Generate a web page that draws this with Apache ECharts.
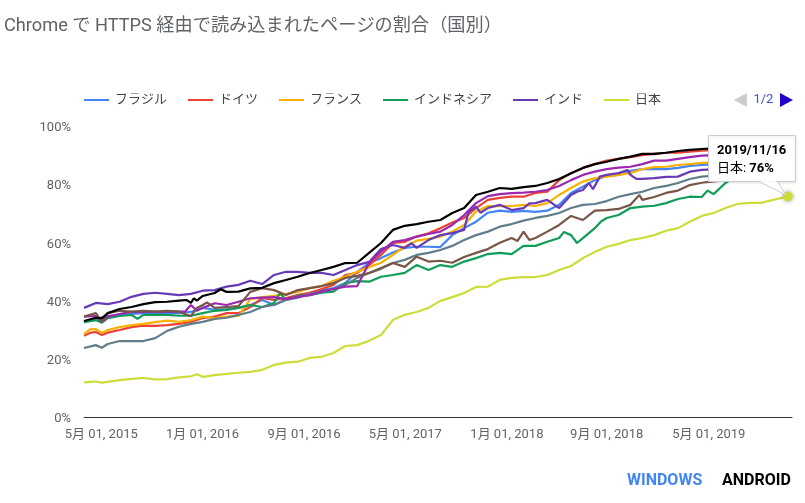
<!DOCTYPE html>
<html>
<head>
<meta charset="utf-8">
<style>
html, body { margin: 0; padding: 0; background: #fff; }
#chart { width: 805px; height: 503px; }
</style>
<script src="https://cdn.jsdelivr.net/npm/echarts@6/dist/echarts.min.js"></script>
</head>
<body>
<div id="chart"></div>
<script>
// weeks since the first sample, 2015/03/21
const weeks = [0,4,8,12,16,20,24,28,32,36,40,44,48,52,56,60,64,68,72,76,80,84,88,92,96,100,104,108,112,116,120,124,128,132,136,140,144,148,152,156,160,164,168,172,176,180,184,188,192,196,200,204,208,212,216,220,224,228,232,236,237]
const tickWeeks = [5.8,39.9,74.1,108.2,142.4,176,210.4]
const tickLabels = ['5月 01, 2015','1月 01, 2016','9月 01, 2016','5月 01, 2017','1月 01, 2018','9月 01, 2018','5月 01, 2019']
const yTicks = [0,20,40,60,80,100]

const brazil = [32.6,33.7,34.7,35.1,35.4,35.7,35.7,35.7,35.7,36.1,37.5,36.8,37.1,37.5,38.5,40.2,38.5,40.5,41.9,42.6,43.6,44.3,46.0,49.9,52.9,54.6,56.5,58.1,58.5,58.5,58.4,62.5,64.9,67.1,70.2,70.9,70.5,70.8,70.5,70.9,72.9,77.0,79.1,81.4,82.8,83.2,84.6,85.2,85.2,85.2,85.6,86.3,86.6,86.9,87.1,87.3,87.4,87.5,87.6,87.7,87.8]
const germany = [27.9,29.2,29.0,29.9,30.9,31.4,31.3,31.6,32.0,32.7,34.0,34.5,35.7,35.7,37.8,40.9,40.2,40.9,41.9,42.7,44.0,45.4,48.8,49.5,52.2,55.7,59.8,60.2,62.0,63.1,64.9,66.8,68.4,71.8,74.6,75.3,75.7,75.7,77.0,77.4,81.4,83.8,85.6,86.9,88.1,88.7,89.3,90.0,90.4,90.8,90.8,91.2,91.5,91.7,91.9,92.0,92.1,92.2,92.3,92.3,92.4]
const france = [28.5,30.2,29.9,30.9,31.6,32.0,32.6,33.1,32.7,33.3,34.5,34.0,34.5,34.7,40.5,41.2,41.6,42.3,43.0,44.3,45.0,46.8,48.2,49.9,51.5,53.0,55.7,58.5,60.6,61.2,62.0,63.7,66.0,70.5,72.5,72.5,72.5,72.9,72.5,73.5,76.3,78.7,80.9,82.1,82.6,83.2,83.8,85.2,85.9,86.0,86.6,86.9,87.3,87.5,87.7,87.9,88.0,88.1,88.2,88.3,88.4]
const indonesia = [32.6,33.3,34.0,34.7,35.1,35.1,35.1,35.1,34.8,34.8,35.7,36.5,36.8,37.5,38.5,37.8,39.2,40.2,41.6,41.9,42.7,43.1,46.0,46.7,46.5,48.2,48.8,49.5,52.2,50.5,52.2,51.6,53.4,54.6,56.0,56.4,56.0,58.8,58.8,60.2,61.5,62.5,61.5,64.9,68.4,69.4,71.8,72.3,72.6,73.5,74.9,75.7,75.6,76.6,80.4,82.8,84.2,84.9,85.2,85.6,85.7]
const india = [37.5,39.2,38.8,39.6,41.3,42.3,42.7,42.3,41.9,42.3,43.4,43.6,44.8,45.4,46.8,45.7,48.8,49.9,49.9,49.5,49.5,48.8,50.5,52.2,53.3,57.7,59.1,58.1,58.1,60.8,62.5,63.2,64.3,72.3,71.8,72.9,71.1,71.8,73.5,74.6,71.8,76.3,78.0,78.7,83.2,83.8,83.2,81.8,82.1,82.5,82.6,84.3,84.9,85.1,85.3,85.4,85.6,85.7,85.8,85.9,86.0]
const japan = [11.9,12.2,12.1,12.7,13.1,13.4,12.9,13.0,13.6,14.0,13.8,14.4,14.8,15.2,15.5,16.2,17.9,18.7,19.0,20.3,20.7,22.0,24.4,24.7,26.2,28.2,33.3,35.1,36.1,37.5,39.9,41.2,42.6,44.7,44.8,47.1,47.8,48.1,48.1,48.8,50.5,51.9,54.6,56.7,58.5,59.5,60.8,61.5,62.5,64.0,64.9,67.1,69.1,70.1,71.8,73.2,73.6,73.6,74.6,75.5,75.8]
const mexico = [23.7,24.7,25.1,26.1,26.1,26.1,27.1,29.6,31.0,32.0,32.7,33.7,34.1,35.1,36.1,37.8,38.5,40.2,41.0,42.3,43.1,44.0,45.4,47.8,49.5,50.9,52.9,54.0,55.7,56.4,57.4,58.8,60.8,62.5,63.7,65.4,66.3,67.5,68.4,69.1,70.1,71.8,72.9,73.2,74.2,75.7,76.6,77.4,78.7,79.4,80.4,81.8,82.6,82.9,83.3,83.6,84.0,84.3,84.6,84.9,85.0]
const uk = [34.5,34.7,34.5,35.4,36.1,36.1,36.2,36.2,36.2,38.5,37.5,39.1,38.5,39.6,40.8,41.0,41.2,40.5,41.3,41.9,43.1,44.0,44.8,45.0,52.9,56.8,60.2,60.8,62.0,62.9,63.7,66.0,69.4,73.5,75.9,76.6,76.9,77.1,77.4,78.0,79.4,81.4,83.2,84.3,85.2,85.7,86.0,86.9,88.1,88.1,88.7,89.3,89.8,90.0,90.1,90.3,90.4,90.5,90.6,90.7,90.8]
const russia = [34.5,35.7,35.7,36.5,36.2,36.5,36.2,36.5,36.2,34.7,38.5,37.5,37.8,38.1,43.0,44.3,43.6,41.9,43.6,44.3,45.0,46.0,47.8,48.5,49.5,51.2,52.9,51.6,55.1,53.4,53.7,53.0,55.0,56.4,57.7,59.9,61.5,63.7,61.5,63.7,66.0,69.1,67.7,70.9,71.1,71.5,72.9,74.6,75.6,77.0,77.8,79.7,80.5,81.0,81.4,81.7,82.0,82.3,82.5,82.7,82.8]
const usa = [33.0,34.1,35.7,37.1,37.8,38.8,39.5,39.6,40.0,39.2,41.6,42.6,43.0,43.1,44.2,44.4,46.0,47.1,48.2,49.5,50.5,51.6,52.9,53.0,56.4,59.8,64.3,65.7,66.3,67.1,67.7,70.1,71.8,76.3,77.4,78.7,78.4,79.0,79.4,80.4,81.8,83.8,85.6,86.9,87.7,88.7,89.5,90.4,90.4,90.8,91.4,91.8,92.1,92.3,92.5,92.6,92.8,92.9,93.0,93.1,93.1]

// extra [week, value] readings where a line has a spike between the 4 week samples
const germanyExtra = [[2,28.9],[6,28.2]]
const franceExtra = [[2,30.1],[6,28.9]]
const indonesiaExtra = [[6,32.4],[18,33.7],[66,42.6],[161.6,63.6],[166,59.8],[174,67.1],[210,77.8]]
const indiaExtra = [[110.3,59.7],[129.5,70.5],[133.5,70.2],[150,73.4],[166,77.4],[170,80.4],[171.4,78.3],[173.7,82.6],[183,84.9],[186,81.8]]
const japanExtra = [[6,11.8],[38,14.7]]
const mexicoExtra = [[6,23.8]]
const ukExtra = [[6,32.7],[34,36.2],[38,36.5]]
const russiaExtra = [[6,32.7],[35,35.0],[38,37.5],[41.4,39.4],[146,60.5],[150,60.8],[187,76.3]]
const usaExtra = [[6,33.9],[34.5,40.2],[37,40.8],[38,40.0],[46,43.9]]

const seriesDefs = [
    { name: 'ブラジル', color: '#4285f4', values: brazil, extra: [] },
    { name: 'ドイツ', color: '#ea4335', values: germany, extra: germanyExtra },
    { name: 'フランス', color: '#fbb004', values: france, extra: franceExtra },
    { name: 'インドネシア', color: '#0f9d58', values: indonesia, extra: indonesiaExtra },
    { name: 'インド', color: '#673ab7', values: india, extra: indiaExtra },
    { name: '日本', color: '#cddc39', values: japan, extra: japanExtra },
    { name: 'メキシコ', color: '#607d8b', values: mexico, extra: mexicoExtra },
    { name: 'イギリス', color: '#9c27b0', values: uk, extra: ukExtra },
    { name: 'ロシア', color: '#795548', values: russia, extra: russiaExtra },
    { name: 'アメリカ', color: '#000000', values: usa, extra: usaExtra }
]

const FONT = 'Roboto, "Noto Sans CJK JP", sans-serif'
const last = weeks.length - 1

const chart = echarts.init(document.getElementById('chart'), null, { renderer: 'canvas' })
chart.setOption({
    animation: false,
    textStyle: { fontFamily: FONT },
    title: [
        { text: 'Chrome で HTTPS 経由で読み込まれたページの割合（国別）', left: 4, top: 17, padding: 0, textStyle: { fontFamily: FONT, fontSize: 18.2, fontWeight: 'normal', color: '#5f6368' } },
        { text: 'WINDOWS', left: 627, top: 473, padding: 0, textStyle: { fontFamily: FONT, fontSize: 16, fontWeight: 'bold', color: '#4285f4' } },
        { text: 'ANDROID', left: 722, top: 473, padding: 0, textStyle: { fontFamily: FONT, fontSize: 16, fontWeight: 'bold', color: '#000' } }
    ],
    legend: {
        type: 'scroll',
        left: 84,
        top: 93,
        width: 709,
        icon: 'rect',
        itemWidth: 25,
        itemHeight: 2,
        itemGap: 21,
        padding: 0,
        textStyle: { fontFamily: FONT, fontSize: 13, color: '#444', padding: [0, 0, 0, 1] },
        pageIcons: { horizontal: ['path://M0,7L13,0L13,14z', 'path://M13,7L0,0L0,14z'] },
        pageIconColor: '#2200cc',
        pageIconInactiveColor: '#ccc',
        pageIconSize: 14,
        pageButtonItemGap: 1,
        pageTextStyle: { color: '#3f51d8', fontSize: 13, fontFamily: FONT },
        data: seriesDefs.map(s => s.name)
    },
    grid: { left: 84, right: 13, top: 126, bottom: 86 },
    xAxis: {
        type: 'value',
        min: 0,
        max: 238.4,
        splitLine: { show: false },
        axisTick: { show: false },
        axisLine: { show: true, lineStyle: { color: '#333', width: 1 } },
        axisLabel: {
            customValues: tickWeeks,
            formatter: v => tickLabels[tickWeeks.indexOf(v)],
            fontFamily: FONT,
            fontSize: 13,
            color: '#5f6368',
            margin: 11
        }
    },
    yAxis: {
        type: 'value',
        min: yTicks[0],
        max: yTicks[yTicks.length - 1],
        interval: 20,
        splitLine: { show: false },
        axisLine: { show: false },
        axisTick: { show: false },
        axisLabel: {
            formatter: '{p|{value}%}',
            rich: { p: { fontFamily: FONT, fontSize: 13, color: '#5f6368', padding: [4, 0, 0, 0] } },
            margin: 13
        }
    },
    series: seriesDefs.map(s => ({
        name: s.name,
        type: 'line',
        showSymbol: false,
        lineStyle: { width: 2.2, color: s.color },
        itemStyle: { color: s.color },
        data: s.values.map((v, i) => [weeks[i], v]).concat(s.extra).sort((a, b) => a[0] - b[0]),
        markPoint: s.values === japan ? {
            silent: true,
            symbol: 'circle',
            symbolSize: 10,
            label: { show: false },
            itemStyle: { color: s.color, shadowColor: 'rgba(0,0,0,0.35)', shadowBlur: 4 },
            data: [{ coord: [weeks[last], japan[last]] }]
        } : undefined
    })),
    graphic: [{
        type: 'group',
        z: 200,
        children: [
            // page 2 of the legend must not show beside the page buttons
            { type: 'rect', z: 200, shape: { x: 670, y: 85, width: 64, height: 24 }, style: { fill: '#fff' } },
            { type: 'rect', z: 200, shape: { x: 708.5, y: 135.5, width: 87, height: 46 }, style: { fill: '#fff', stroke: '#ccc', lineWidth: 1, shadowColor: 'rgba(0,0,0,0.12)', shadowBlur: 3, shadowOffsetY: 1 } },
            { type: 'polygon', z: 201, shape: { points: [[758, 181], [777, 181], [786, 195]] }, style: { fill: '#fff', stroke: '#ccc', lineWidth: 1 } },
            { type: 'rect', z: 202, shape: { x: 759, y: 179, width: 17, height: 2.5 }, style: { fill: '#fff' } },
            { type: 'text', z: 203, x: 717, y: 144, style: { text: '2019/11/16', font: 'bold 13px ' + FONT, fill: '#000' } },
            { type: 'text', z: 203, x: 717, y: 162, style: { text: '{a|日本: }{b|76%}', rich: { a: { font: '13px ' + FONT, fill: '#000' }, b: { font: 'bold 13px ' + FONT, fill: '#000' } } } }
        ]
    }]
})
</script>
</body>
</html>
